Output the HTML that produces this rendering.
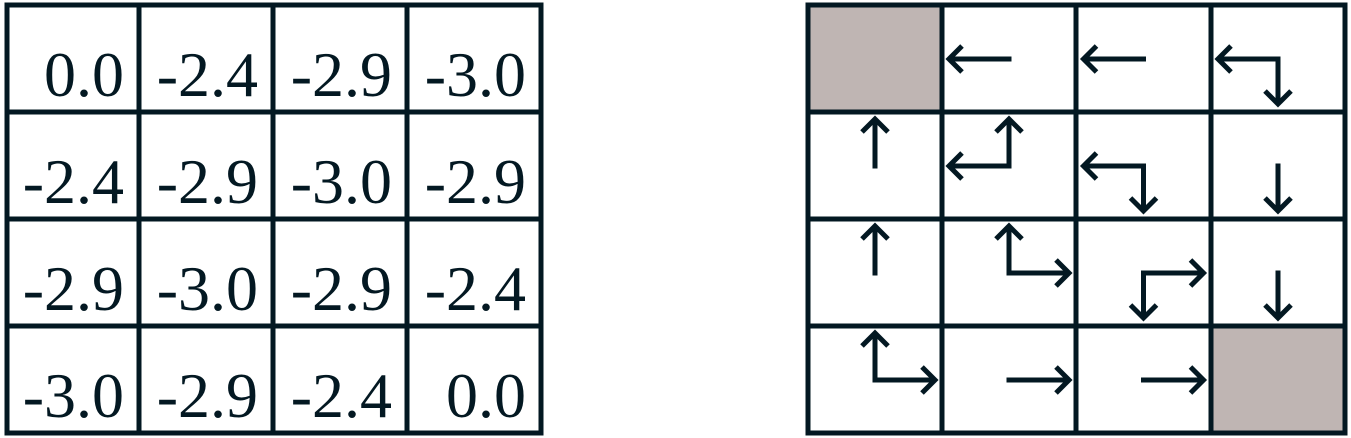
<!DOCTYPE html>
<html><head><meta charset="utf-8"><style>
html,body{margin:0;padding:0;background:#fff;}
svg{display:block;}
</style></head><body>
<svg id="fig" width="1351" height="438" viewBox="0 0 1351 438" xmlns="http://www.w3.org/2000/svg">
<g id="left"></g>
<g id="right"></g>
</svg>
<script>
// value function (row-major 4x4)
const values = [
  ["0.0","-2.4","-2.9","-3.0"],
  ["-2.4","-2.9","-3.0","-2.9"],
  ["-2.9","-3.0","-2.9","-2.4"],
  ["-3.0","-2.9","-2.4","0.0"]
];
// policy directions per cell: L,R,U,D ; "T" terminal
const policy = [
  ["T","L","L","LD"],
  ["U","LU","LD","D"],
  ["U","UR","RD","D"],
  ["UR","R","R","T"]
];
const NS = "http://www.w3.org/2000/svg";
const ink = "#031822";
const leftXs = [7,139,273,407,541];
const rightXs = [808,942,1076,1211,1345];
const ys = [5,112,219,326,433];
function mk(tag, attrs, parent){
  const e = document.createElementNS(NS, tag);
  for (const k in attrs) e.setAttribute(k, attrs[k]);
  parent.appendChild(e); return e;
}
const L = document.getElementById('left');
const R = document.getElementById('right');
for (let r=0;r<4;r++){
  for (let c=0;c<4;c++){
    const t = mk('text',{x:leftXs[c+1]-15,y:ys[r]+91,'text-anchor':'end','font-family':'"Liberation Serif", serif','font-size':64,fill:ink},L);
    
    
    t.textContent = values[r][c];
  }
}
for (let r=0;r<4;r++){
  for (let c=0;c<4;c++){
    if (policy[r][c]==="T"){
      const s = mk('rect',{x:rightXs[c],y:ys[r],width:rightXs[c+1]-rightXs[c]+2,height:ys[r+1]-ys[r]+2,fill:'#bfb5b3'},R);
      
      
    }
  }
}
function grid(g, xs, name){
  for (const x of xs){
    const l = mk('line',{x1:x,y1:ys[0]-2.5,x2:x,y2:ys[4]+2.5,stroke:ink,'stroke-width':5},g);
    
    
  }
  for (const y of ys){
    const l = mk('line',{x1:xs[0]-2.5,y1:y,x2:xs[4]+2.5,y2:y,stroke:ink,'stroke-width':5},g);
    
    
  }
}
grid(L, leftXs, 'value-grid');
grid(R, rightXs, 'policy-grid');
const vec = {L:[-60,0],R:[60,0],U:[0,-47],D:[0,45]};
function arrow(x,y,d){
  const [dx,dy] = vec[d];
  const x2=x+dx, y2=y+dy;
  const ux = Math.sign(dx), uy = Math.sign(dy), h=13;
  const l = mk('line',{x1:x-ux*2.5-uy*0,y1:y-uy*2.5,x2:x2-ux*2,y2:y2-uy*2,stroke:ink,'stroke-width':5,'stroke-linecap':'butt'},R);
  
  
  const p = mk('polyline',{points:`${x2-ux*h-uy*h},${y2-uy*h-ux*h} ${x2},${y2} ${x2-ux*h+uy*h},${y2-uy*h+ux*h}`,fill:'none',stroke:ink,'stroke-width':5,'stroke-linejoin':'miter'},R);
  
  
}
for (let r=0;r<4;r++){
  for (let c=0;c<4;c++){
    const p = policy[r][c];
    if (p==="T") continue;
    const cx = (rightXs[c]+rightXs[c+1])/2;
    const cy = ys[r] + 54;
    for (const d of p) arrow(cx, cy, d);
    if (p.length===2){
      const k = mk('rect',{x:cx-2.5,y:cy-2.5,width:5,height:5,fill:ink},R);
      
      
    }
  }
}
</script>
</body></html>
